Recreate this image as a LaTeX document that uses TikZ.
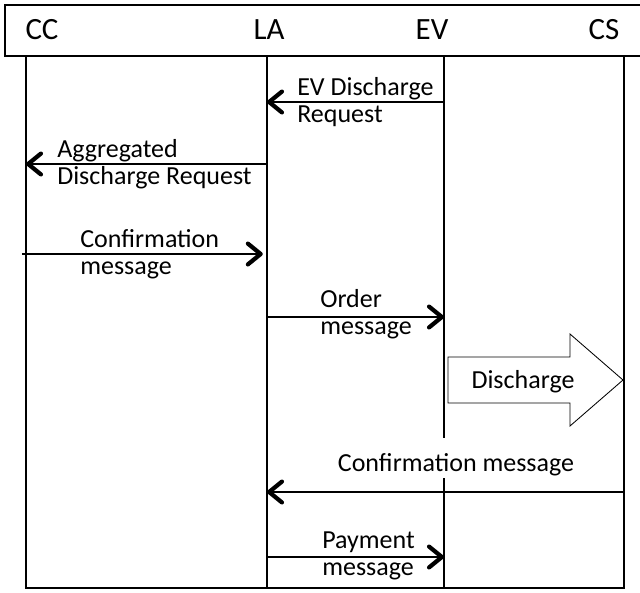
\documentclass[tikz,border=0pt]{standalone}
\usepackage{fontspec}
\setmainfont{Carlito}
\usetikzlibrary{arrows.meta,positioning}

\begin{document}
\begin{tikzpicture}[x=0.025cm,y=-0.025cm,line join=miter,
  font=\fontsize{18.5}{19.5}\selectfont,
  life/.style={line width=1pt},
  msg/.style={line width=0.75pt,-{Straight Barb[length=0.32cm,width=0.52cm,line width=3pt,round]}},
  lbl/.style={align=left,inner sep=0pt,anchor=west},
  hdr/.style={inner sep=0pt,anchor=base,font=\fontsize{22}{24}\selectfont}]
\path[use as bounding box] (0,0) rectangle (640,593);
\fill[white] (0,0) rectangle (640,593);

% header bar with the four parties
\draw[line width=1.1pt] (660,5) -- (5,5) -- (5,56) -- (660,56);
\node[hdr] (cc-h) at (42,39) {CC};
\node[hdr] (la-h) at (269,39) {LA};
\node[hdr] (ev-h) at (432,39) {EV};
\node[hdr] (cs-h) at (604,39) {CS};

% lifelines
\coordinate (cc) at (26,56);
\coordinate (la) at (267,56);
\coordinate (ev) at (444,56);
\coordinate (cs) at (624,56);
\coordinate (bot) at (0,588);
\coordinate (evcut) at (0,438);
\coordinate (evres) at (0,478);
\draw[life] (cc) -- (cc |- bot) -- (cs |- bot) -- (cs);
\draw[life] (la) -- (la |- bot);
\draw[life] (ev) -- (ev |- evcut);
\draw[life] (ev |- evres) -- (ev |- bot);

% message rows
\coordinate (m1) at (0,102);
\coordinate (m2) at (0,164);
\coordinate (m3) at (0,254);
\coordinate (m4) at (0,317);
\coordinate (m6) at (0,492);
\coordinate (m7) at (0,557);

\draw[msg] (ev |- m1) -- (la |- m1);
\node[lbl] (l1) at (297,102) {EV Discharge\\Request};

\draw[msg] (la |- m2) -- (cc |- m2);
\node[lbl] (l2) at (57,164) {Aggregated\\Discharge Request};

\draw[msg,shorten <=-3pt,shorten >=3pt] (cc |- m3) -- (la |- m3);
\node[lbl] (l3) at (80,254) {Confirmation\\message};

\draw[msg] (la |- m4) -- (ev |- m4);
\node[lbl] (l4) at (320,314) {Order\\message};

% discharge from EV to CS
\draw[line width=0.6pt] (448,357) -- (570,357) -- (570,334) -- (623,380)
  -- (570,426) -- (570,403) -- (448,403) -- cycle;
\node (dis) at (523,382) {Discharge};

\draw[msg] (cs |- m6) -- (la |- m6);
\node[anchor=base,inner sep=0pt] (l6) at (456,471) {Confirmation message};

\draw[msg] (la |- m7) -- (ev |- m7);
\node[lbl] (l7) at (322,556) {Payment\\message};
\end{tikzpicture}
\end{document}
